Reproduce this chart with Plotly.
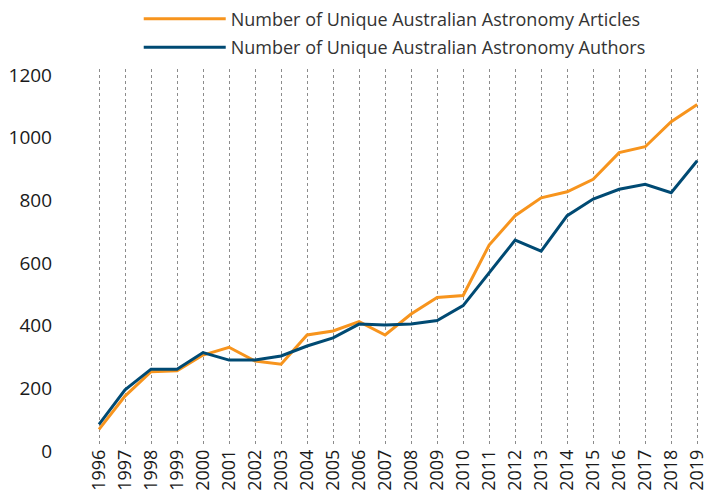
import plotly.graph_objects as go

years = [str(y) for y in range(1996, 2020)]
articles = [50, 156, 234, 237, 287, 312, 268, 258, 351, 364, 394, 351,
            418, 471, 477, 638, 732, 789, 808, 848, 933, 952, 1032, 1087]
authors = [66, 176, 242, 242, 295, 271, 271, 284, 316, 342, 386, 383,
           386, 397, 445, 548, 654, 619, 732, 785, 816, 832, 805, 907]
y_ticks = [0, 200, 400, 600, 800, 1000, 1200]

xs = list(range(len(years)))
tickvals = list(range(-1, len(years)))
ticktext = [""] + years

fig = go.Figure()
fig.add_trace(go.Scatter(x=xs, y=articles, mode="lines", legendgroup="a",
                         name="Number of Unique Australian Astronomy Articles",
                         line=dict(color="#F7941D", width=3)))
fig.add_trace(go.Scatter(x=xs, y=authors, mode="lines", legendgroup="b",
                         name="Number of Unique Australian Astronomy Authors",
                         line=dict(color="#004A73", width=3)))

# page body adds an 8px offset; margins compensate for it
fig.update_layout(
    width=719, height=498,
    margin=dict(l=65, r=22, t=61, b=61, autoexpand=False),
    paper_bgcolor="white", plot_bgcolor="white",
    font=dict(family="Open Sans", size=18, color="#1a1a1a"),
    showlegend=True,
    legend=dict(x=0.104, y=1.182, xanchor="left", yanchor="top",
                bgcolor="rgba(0,0,0,0)",
                font=dict(size=18, color="#333333"), itemwidth=82,
                tracegroupgap=2),
    xaxis=dict(type="linear", range=[-1, 23.3], tickvals=tickvals,
               ticktext=ticktext, tickangle=-90, showgrid=True,
               gridcolor="#8c8c8c", griddash="dot", gridwidth=1,
               zeroline=False, showline=False, ticks="", automargin=False,
               tickfont=dict(size=18)),
    yaxis=dict(type="linear", range=[0, 1200], tickvals=y_ticks,
               showgrid=False, zeroline=False, showline=False, ticks="",
               automargin=False, ticklabelstandoff=20, ticklabelshift=6,
               tickfont=dict(size=19)),
)

fig.write_html("out.html")
